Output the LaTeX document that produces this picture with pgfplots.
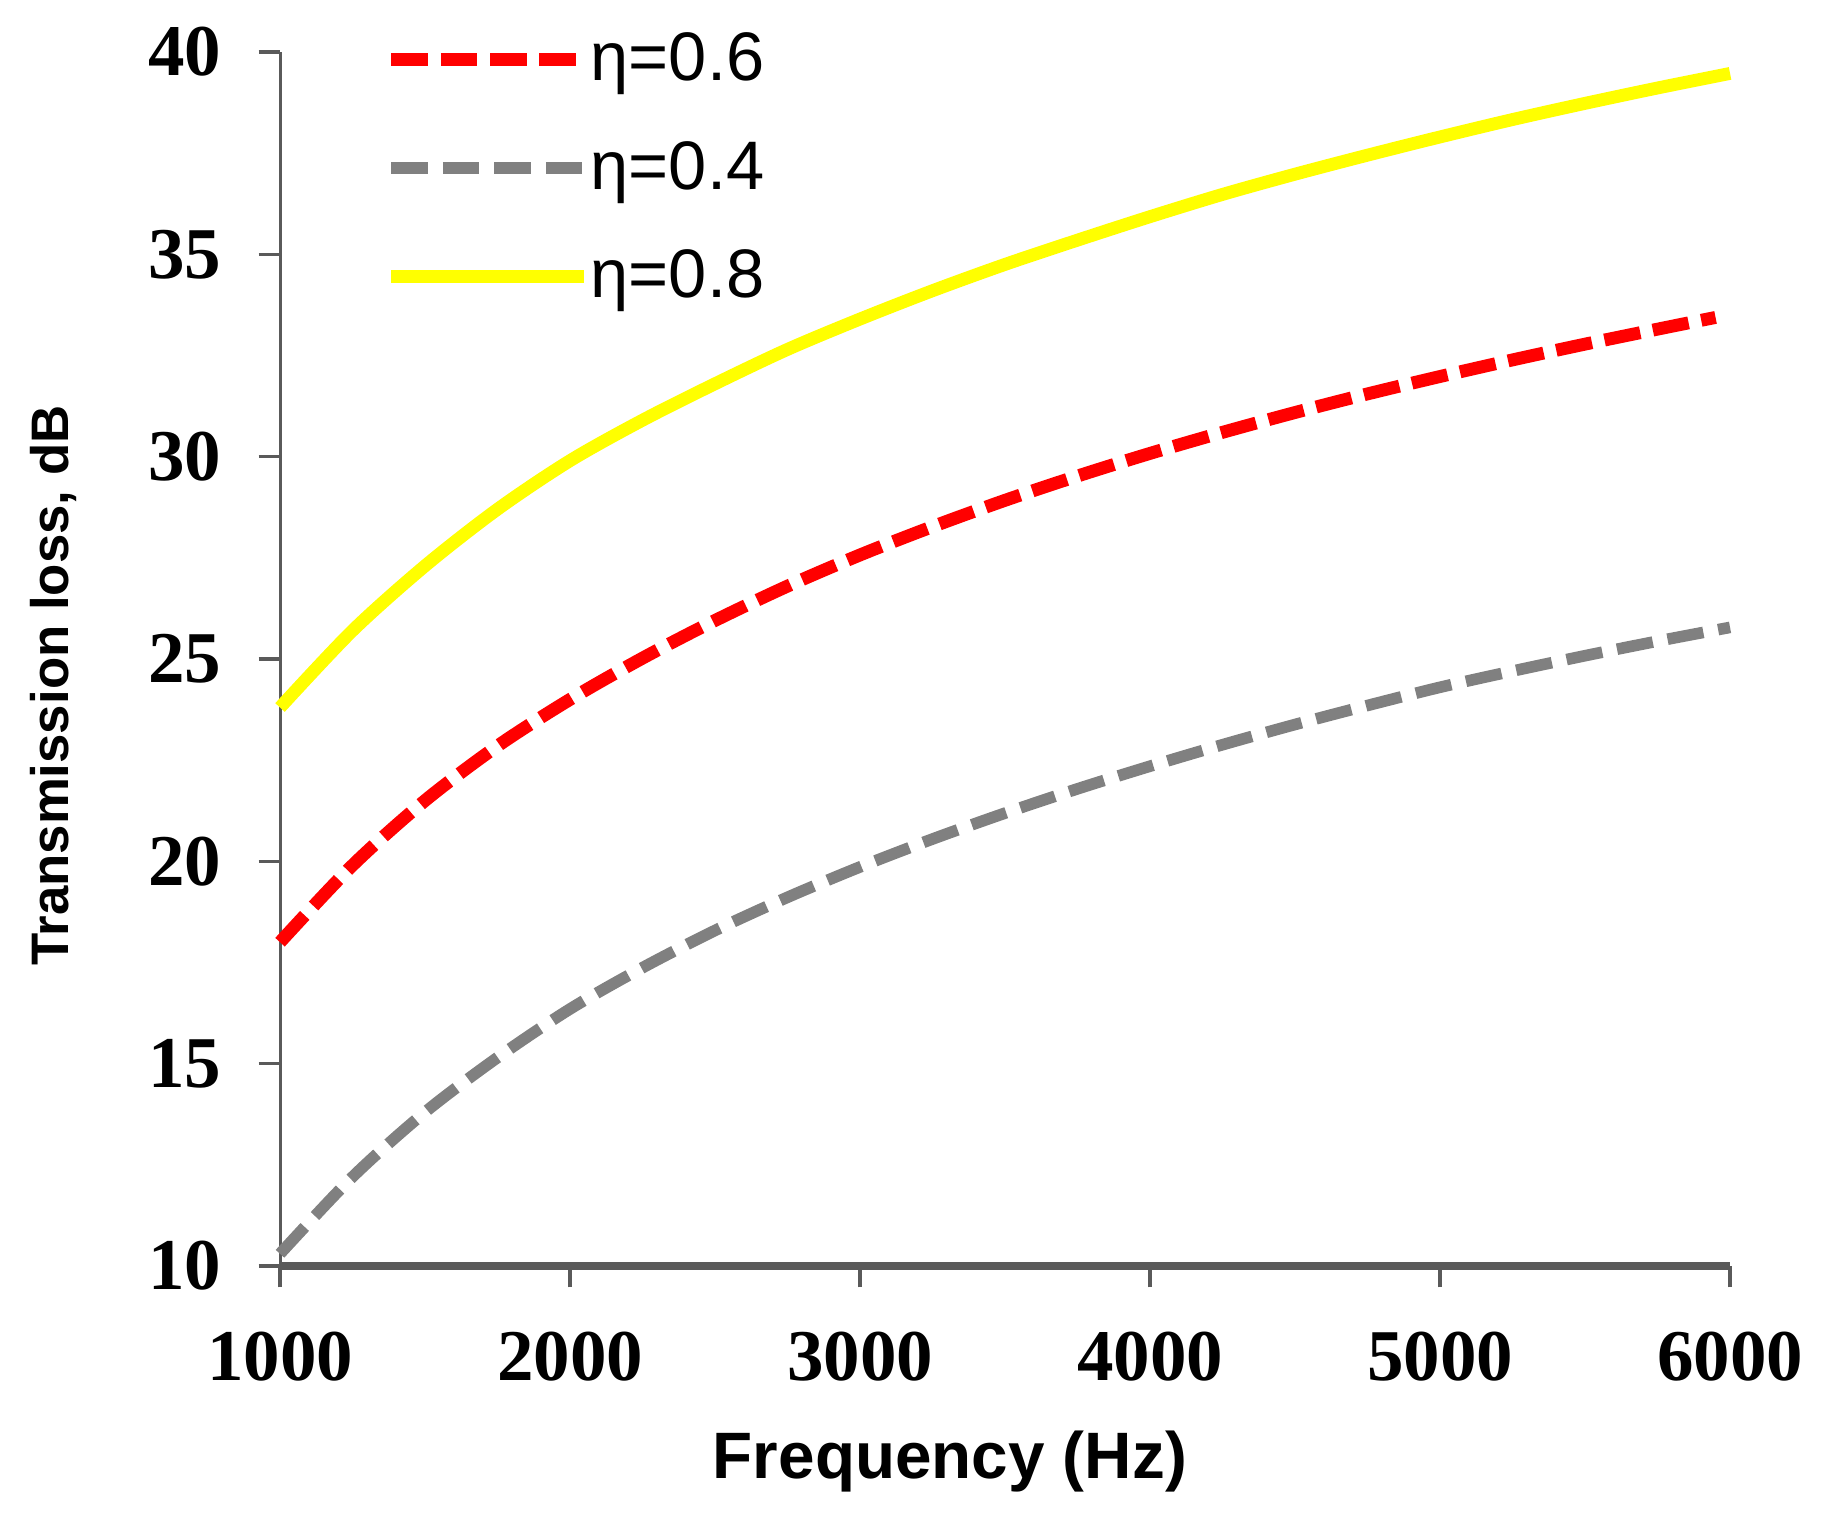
\documentclass[border=0pt]{standalone}
\usepackage{pgfplots}
\pgfplotsset{compat=1.18}
\usepackage{fontspec}
\setmainfont{Liberation Serif}
\newfontfamily\sansf{Liberation Sans}
\definecolor{ylw}{RGB}{255,255,0}
\definecolor{gry}{RGB}{128,128,128}
\definecolor{rd}{RGB}{255,0,0}
\definecolor{axc}{RGB}{90,90,90}
\begin{document}
\begin{tikzpicture}
\useasboundingbox (-2.294cm,-2.073cm) rectangle (12.706cm,10.371cm);
\begin{axis}[
  at={(0,0)}, anchor=south west,
  scale only axis, width=11.879cm, height=9.945cm,
  xmin=1000, xmax=6000, ymin=10, ymax=40,
  xtick={1000,2000,3000,4000,5000,6000},
  ytick={10,15,20,25,30,35,40},
  axis x line*=bottom, axis y line*=left,
  x axis line style={line width=1.9pt, draw=axc},
  y axis line style={line width=0.7pt, draw=axc},
  tick align=outside, major tick length=5pt,
  tick style={line width=0.8pt, draw=axc},
  scaled ticks=false,
  /pgf/number format/1000 sep={},
  /pgf/number format/assume math mode=true,
  tick label style={font=\fontsize{17}{17}\selectfont\bfseries},
  yticklabel style={inner sep=0pt, xshift=-8.5pt},
  xticklabel style={inner sep=0pt, yshift=-10.3pt},
  xlabel={Frequency (Hz)},
  ylabel={Transmission loss, dB},
  every axis x label/.style={at={(axis description cs:0.462,0)}, yshift=-45.5pt, anchor=center, font=\sansf\bfseries\fontsize{15.3}{17}\selectfont},
  every axis y label/.style={at={(axis description cs:0,0.478)}, xshift=-52.7pt, rotate=90, anchor=center, font=\sansf\bfseries\fontsize{12.3}{14}\selectfont},
  legend style={draw=none, fill=none, at={(axis cs:1362,40.46)}, anchor=north west,
    inner sep=0pt, outer sep=0pt, row sep=10.3pt, column sep=0pt,
    font=\sansf\fontsize{16}{16}\selectfont,
    nodes={inner sep=0pt, text height=11pt, text depth=4pt}},
  legend cell align=left,
  legend image code/.code={\draw[#1] (0cm,1.4pt) -- (1.58cm,1.4pt);},
  clip=false,
]
\addplot[rd, line width=3pt, dash pattern=on 8.5pt off 3pt, smooth, tension=0.5] coordinates {
(1000,18.0) (1250,19.9) (1500,21.5) (1750,22.85) (2000,24.0) (2250,25.02) (2500,25.95)
(2750,26.8) (3000,27.57) (3250,28.27) (3500,28.92) (3750,29.52) (4000,30.08) (4250,30.6)
(4500,31.09) (4750,31.55) (5000,31.98) (5250,32.39) (5500,32.78) (5750,33.15) (5950,33.44)};
\addlegendentry{η=0.6}
\addplot[gry, line width=2.7pt, dash pattern=on 8.5pt off 3.5pt, smooth, tension=0.5] coordinates {
(1000,10.3) (1250,12.2) (1500,13.8) (1750,15.15) (2000,16.35) (2250,17.37) (2500,18.29)
(2750,19.11) (3000,19.86) (3250,20.55) (3500,21.19) (3750,21.79) (4000,22.35) (4250,22.88)
(4500,23.38) (4750,23.85) (5000,24.3) (5250,24.7) (5500,25.08) (5750,25.44) (6000,25.78)};
\addlegendentry{η=0.4}
\addplot[ylw, line width=3pt, smooth, tension=0.5] coordinates {
(1000,23.8) (1250,25.7) (1500,27.3) (1750,28.7) (2000,29.9) (2250,30.9) (2500,31.8)
(2750,32.65) (3000,33.4) (3250,34.1) (3500,34.75) (3750,35.35) (4000,35.93) (4250,36.48)
(4500,36.98) (4750,37.45) (5000,37.9) (5250,38.33) (5500,38.73) (5750,39.11) (6000,39.47)};
\addlegendentry{η=0.8}
\end{axis}
\end{tikzpicture}
\end{document}
